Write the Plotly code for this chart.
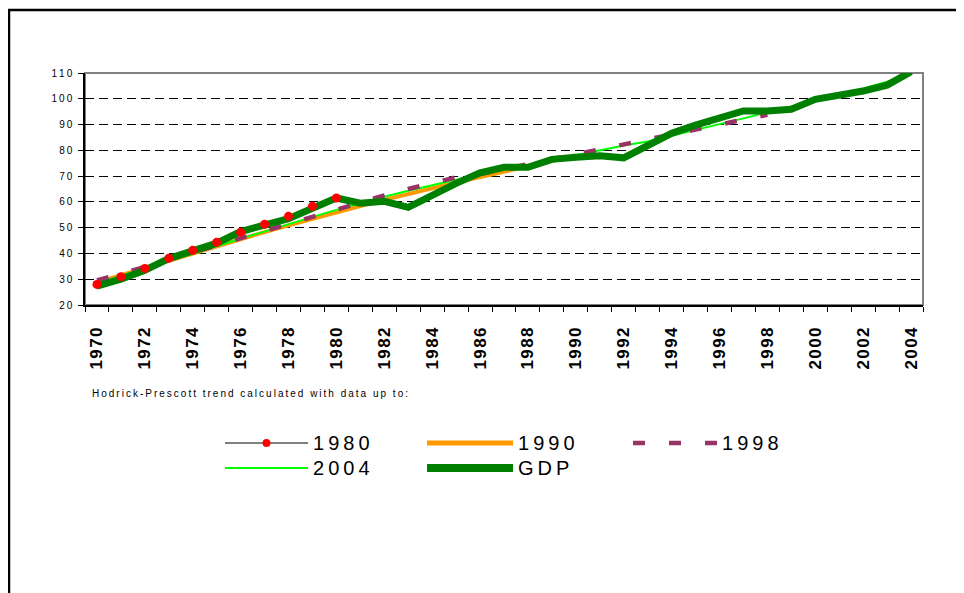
import plotly.graph_objects as go

# GDP index and Hodrick-Prescott trends
years = list(range(1970, 2005))

gdp = [27.3, 30.0, 33.5, 38.0, 41.0, 44.0, 48.5, 51.0, 53.5, 57.5,
       61.5, 59.5, 60.2, 57.9, 62.7, 67.2, 71.3, 73.4, 73.4, 76.5,
       77.3, 77.9, 77.1, 81.8, 86.6, 89.8, 92.3, 95.3, 95.3, 95.9,
       99.8, 101.4, 103.0, 105.3, 110.5]

trend_1980 = [28.0, 31.0, 34.2, 38.1, 41.2, 44.3, 48.2, 51.3, 54.4, 58.3, 61.5]

trend_1990 = [28.8, 31.6, 34.5, 37.3, 40.1, 42.9, 45.6, 48.3, 50.9, 53.5,
              56.0, 58.4, 60.8, 63.1, 65.3, 67.5, 69.6, 71.7, 73.8, 75.9, 78.0]

trend_1998 = [29.5, 32.0, 34.8, 37.6, 40.4, 43.2, 46.0, 48.8, 51.6, 54.4,
              57.2, 59.9, 62.5, 65.0, 67.3, 69.5, 70.8, 72.7, 74.6, 76.5,
              78.4, 80.3, 82.2, 84.0, 86.0, 88.0, 90.0, 92.0, 93.8]

trend_2004 = [28.5, 31.3, 34.1, 37.0, 39.9, 42.8, 45.7, 48.6, 51.4, 54.2,
              56.9, 59.5, 62.0, 64.3, 66.5, 68.6, 70.6, 72.5, 74.4, 76.3,
              78.2, 80.1, 81.9, 83.4, 85.6, 87.8, 90.0, 92.4, 94.7, 97.1,
              99.4, 101.7, 104.0, 106.6, 109.6]

tick_years = [1970, 1972, 1974, 1976, 1978, 1980, 1982, 1984, 1986,
              1988, 1990, 1992, 1994, 1996, 1998, 2000, 2002, 2004]
y_ticks = [20, 30, 40, 50, 60, 70, 80, 90, 100, 110]

note = "Hodrick-Prescott trend calculated with data up to:"

FONT = "Liberation Sans, Arial, sans-serif"
THIN = "\u2009"
HAIR = "\u200a"


def spaced(s, sep=THIN):
    return sep.join(str(s))


# the page puts the figure 8px in from the window corner
OX, OY = 8, 8
W, H = 964, 593
L, R, T, B = 77, 49, 65, 296
PW, PH = W - L - R, H - T - B


def px(x):
    # window x -> paper x
    return (x - OX - L) / PW


def py(y):
    # window y -> paper y
    return (H - B - (y - OY)) / PH


styles = {
    "1980": dict(color="black", width=1),
    "1990": dict(color="#FF9900", width=4),
    "1998": dict(color="#993366", width=4.5, dash="12px,24px"),
    "2004": dict(color="#00FF00", width=2),
    "GDP": dict(color="#008000", width=7),
}

fig = go.Figure()
fig.add_trace(go.Scatter(x=years[:len(trend_1980)], y=trend_1980, name="1980",
                         mode="lines", line=styles["1980"]))
fig.add_trace(go.Scatter(x=years[:len(trend_1990)], y=trend_1990, name="1990",
                         mode="lines", line=styles["1990"]))
fig.add_trace(go.Scatter(x=years[:len(trend_2004)], y=trend_2004, name="2004",
                         mode="lines", line=styles["2004"]))
fig.add_trace(go.Scatter(x=years[:len(trend_1998)], y=trend_1998, name="1998",
                         mode="lines", line=styles["1998"]))
fig.add_trace(go.Scatter(x=years, y=gdp, name="GDP",
                         mode="lines", line=styles["GDP"]))
fig.add_trace(go.Scatter(x=years[:len(trend_1980)], y=trend_1980, name="1980",
                         mode="markers", marker=dict(color="red", size=9),
                         showlegend=False))

# outer border and the plot frame
shapes = [
    dict(type="rect", xref="paper", yref="paper",
         x0=px(9), y0=py(10), x1=px(1000), y1=py(640),
         line=dict(color="black", width=2.5)),
    dict(type="rect", xref="paper", yref="paper", x0=0, y0=0, x1=1, y1=1,
         line=dict(color="#808080", width=2), layer="between"),
]
annotations = [
    dict(text=spaced(note), xref="paper", yref="paper", x=px(90), y=py(393),
         xanchor="left", yanchor="middle", showarrow=False,
         font=dict(family=FONT, size=10, color="black")),
]

# legend drawn by hand so the line samples are as long as in the original
legend_items = [
    ("1980", 225, 308, 443),
    ("1990", 427, 513, 443),
    ("1998", 633, 717, 443),
    ("2004", 225, 308, 468),
    ("GDP", 427, 513, 468),
]
for name, x0, x1, yy in legend_items:
    st = styles[name]
    lw = st["width"] + 1 if name in ("1990", "GDP") else st["width"]
    shapes.append(dict(type="line", xref="paper", yref="paper",
                       x0=px(x0), x1=px(x1), y0=py(yy), y1=py(yy),
                       line=dict(color=st["color"], width=lw,
                                 dash=st.get("dash", "solid"))))
    annotations.append(dict(text=spaced(name), xref="paper", yref="paper",
                            x=px(x1 + 3), y=py(yy), xanchor="left",
                            yanchor="middle", showarrow=False,
                            font=dict(family=FONT, size=20, color="black")))
    if name == "1980":
        cx = (x0 + x1) / 2
        shapes.append(dict(type="circle", xref="paper", yref="paper",
                           x0=px(cx - 4), x1=px(cx + 4),
                           y0=py(yy - 4), y1=py(yy + 4),
                           fillcolor="red", line=dict(color="red", width=0)))

fig.update_layout(
    width=W, height=H,
    margin=dict(l=L, r=R, t=T, b=B),
    paper_bgcolor="white", plot_bgcolor="white",
    showlegend=False,
    shapes=shapes, annotations=annotations,
    font=dict(family=FONT, color="black"),
)
fig.update_xaxes(
    range=[1969.5, 2004.5], tickmode="array", tickvals=tick_years,
    ticktext=[spaced(y, HAIR) for y in tick_years], tickangle=-90,
    ticks="", ticklabelstandoff=14,
    tickfont=dict(family=FONT, size=17, weight="bold", color="black"),
    showline=True, linecolor="black", linewidth=1.5, showgrid=False,
    zeroline=False,
    minor=dict(ticks="outside", ticklen=5, tickcolor="black", tickwidth=1,
               tickmode="linear", tick0=1969.5, dtick=1, showgrid=False),
)
fig.update_yaxes(
    range=[20, 110], tickmode="array", tickvals=y_ticks,
    ticktext=[spaced(v) for v in y_ticks],
    ticks="outside", ticklen=5, tickcolor="black", ticklabelstandoff=4,
    tickfont=dict(family=FONT, size=10, color="black"),
    showline=True, linecolor="black", linewidth=1.5,
    showgrid=True, gridcolor="black", gridwidth=1, griddash="9px,5px",
    zeroline=False,
)

fig.write_html("out.html")
